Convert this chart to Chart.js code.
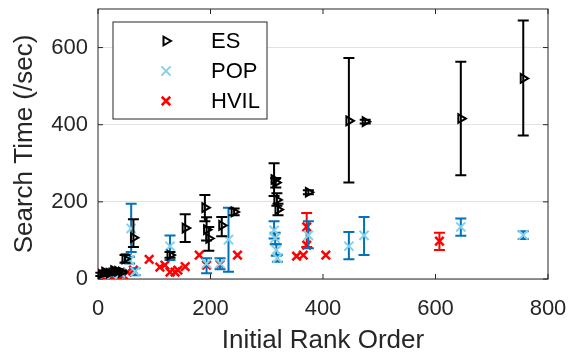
<!DOCTYPE html>
<html lang="en">
<head>
  <meta charset="UTF-8">
  <title>Search Time vs Initial Rank Order</title>
  <script src="https://cdn.jsdelivr.net/npm/chart.js"></script>
  <style>
    html, body { margin: 0; padding: 0; background: #fff; }
    #wrap { width: 571px; height: 356px; }
  </style>
</head>
<body>
  <div id="wrap"><canvas id="searchChart" width="571" height="356"></canvas></div>

  <script>
    // ES
    const esX  = [5, 12, 20, 28, 35, 42, 48, 63, 128, 155, 190, 193, 197, 220, 242, 313, 316, 318, 320, 374, 446, 475, 645, 756];
    const esY  = [12, 18, 15, 22, 20, 18, 52, 107, 62, 132, 185, 128, 105, 139, 174, 258, 250, 205, 180, 225, 410, 408, 416, 520];
    const esLo = [8, 14, 10, 17, 15, 14, 42, 83, 55, 96, 150, 100, 73, 111, 165, 215, 237, 190, 165, 220, 250, 403, 269, 372];
    const esHi = [16, 22, 20, 27, 25, 22, 62, 155, 70, 168, 218, 160, 135, 161, 183, 300, 262, 222, 195, 230, 573, 413, 563, 670];

    // POP
    const popX  = [10, 25, 40, 50, 56, 59, 66, 128, 193, 217, 232, 313, 315, 317, 319, 374, 446, 473, 645, 756];
    const popY  = [10, 12, 15, 55, 49, 131, 19, 85, 40, 40, 102, 126, 106, 75, 54, 113, 85, 113, 135, 114];
    const popLo = [5, 8, 10, 45, 40, 70, 10, 49, 15, 25, 19, 105, 90, 60, 45, 80, 51, 62, 112, 104];
    const popHi = [15, 16, 20, 65, 58, 195, 28, 113, 54, 54, 185, 150, 120, 90, 63, 150, 122, 161, 157, 124];

    // HVIL
    const hvilX  = [2, 6, 10, 14, 18, 22, 26, 30, 35, 40, 45, 52, 63, 91, 110, 119, 128, 137, 142, 155, 180, 193, 217, 248, 353, 365, 371, 371, 405, 607];
    const hvilY  = [8, 15, 5, 12, 8, 15, 6, 12, 8, 14, 10, 18, 23, 51, 31, 36, 18, 18, 23, 32, 62, 36, 38, 62, 59, 62, 135, 88, 62, 98];
    const hvilLo = [8, 15, 5, 12, 8, 15, 6, 12, 8, 14, 10, 18, 23, 51, 31, 36, 18, 18, 23, 32, 62, 36, 38, 62, 59, 62, 83, 88, 62, 75];
    const hvilHi = [8, 15, 5, 12, 8, 15, 6, 12, 8, 14, 10, 18, 23, 51, 31, 36, 18, 18, 23, 32, 62, 36, 38, 62, 59, 62, 171, 88, 62, 120];

    // axis ticks
    const xTicks = [0, 200, 400, 600, 800];
    const yTicks = [0, 200, 400, 600];

    const pts = (xs, ys) => xs.map((x, i) => ({ x: x, y: ys[i] }));
    const AX = '#262626';
    Chart.defaults.font.family = "'Liberation Sans', Arial, Helvetica, sans-serif";

    // error bars under each series' markers
    const errorBars = {
      id: 'errorBars',
      beforeDatasetDraw(chart, args) {
        const ds = chart.data.datasets[args.index];
        if (!ds.errLo) return;
        const xs = chart.scales.x, ys = chart.scales.y, ctx = chart.ctx;
        ctx.save();
        ctx.strokeStyle = ds.errColor;
        ctx.lineWidth = 2;
        ds.data.forEach((p, i) => {
          const lo = ds.errLo[i], hi = ds.errHi[i];
          if (hi - lo <= 0) return;
          const px = xs.getPixelForValue(p.x);
          const y0 = ys.getPixelForValue(lo), y1 = ys.getPixelForValue(hi);
          ctx.beginPath();
          ctx.moveTo(px, y0); ctx.lineTo(px, y1);
          ctx.moveTo(px - 5.5, y0); ctx.lineTo(px + 5.5, y0);
          ctx.moveTo(px - 5.5, y1); ctx.lineTo(px + 5.5, y1);
          ctx.stroke();
        });
        ctx.restore();
      }
    };

    // box round the axes with inward ticks
    const axesBox = {
      id: 'axesBox',
      beforeDatasetsDraw(chart) {
        const { ctx, chartArea: a, scales: { x, y } } = chart;
        ctx.save();
        ctx.strokeStyle = AX;
        ctx.lineWidth = 1;
        ctx.strokeRect(a.left, a.top, a.right - a.left, a.bottom - a.top);
        ctx.beginPath();
        xTicks.forEach(v => {
          const px = x.getPixelForValue(v);
          ctx.moveTo(px, a.bottom); ctx.lineTo(px, a.bottom - 5);
          ctx.moveTo(px, a.top); ctx.lineTo(px, a.top + 5);
        });
        yTicks.forEach(v => {
          const py = y.getPixelForValue(v);
          ctx.moveTo(a.left, py); ctx.lineTo(a.left + 5, py);
          ctx.moveTo(a.right, py); ctx.lineTo(a.right - 5, py);
        });
        ctx.stroke();
        ctx.restore();
      }
    };

    // legend box inside the axes, top left
    const boxLegend = {
      id: 'boxLegend',
      afterDatasetsDraw(chart) {
        const { ctx, chartArea: a } = chart;
        const lx = a.left + 15, ly = a.top + 13, w = 154, h = 97;
        ctx.save();
        ctx.fillStyle = '#fff';
        ctx.fillRect(lx, ly, w, h);
        ctx.strokeStyle = AX;
        ctx.lineWidth = 1;
        ctx.strokeRect(lx, ly, w, h);
        ctx.font = "22px 'Liberation Sans', Arial, sans-serif";
        ctx.textBaseline = 'middle';
        chart.data.datasets.forEach((ds, i) => {
          const cy = ly + 19 + i * 30;
          ctx.strokeStyle = ds.borderColor;
          ctx.fillStyle = ds.backgroundColor;
          ctx.lineWidth = ds.borderWidth;
          Chart.helpers.drawPoint(ctx, {
            pointStyle: ds.pointStyle, rotation: ds.rotation || 0,
            radius: ds.pointRadius, borderWidth: ds.borderWidth
          }, lx + 53, cy);
          ctx.fillStyle = '#000';
          ctx.fillText(ds.label, lx + 98, cy + 1);
        });
        ctx.restore();
      }
    };

    new Chart(document.getElementById('searchChart'), {
      type: 'scatter',
      data: {
        datasets: [
          {
            label: 'ES', data: pts(esX, esY), errLo: esLo, errHi: esHi, errColor: '#000',
            pointStyle: 'triangle', rotation: 90, pointRotation: 90, pointRadius: 5,
            borderColor: '#000', backgroundColor: 'rgba(0,0,0,0)', borderWidth: 2
          },
          {
            label: 'POP', data: pts(popX, popY), errLo: popLo, errHi: popHi, errColor: '#0072BD',
            pointStyle: 'crossRot', pointRadius: 6.5,
            borderColor: '#86D0E8', backgroundColor: '#86D0E8', borderWidth: 2
          },
          {
            label: 'HVIL', data: pts(hvilX, hvilY), errLo: hvilLo, errHi: hvilHi, errColor: '#ff0000',
            pointStyle: 'crossRot', pointRadius: 6,
            borderColor: '#ff0000', backgroundColor: '#ff0000', borderWidth: 2.5
          }
        ]
      },
      options: {
        responsive: false,
        animation: false,
        layout: { padding: { top: 9, right: 23, left: 0, bottom: 0 } },
        plugins: { legend: { display: false }, tooltip: { enabled: false } },
        scales: {
          x: {
            type: 'linear', min: 0, max: 800,
            afterFit: s => { s.height = 77; s.paddingLeft = 0; s.paddingRight = 0; },
            ticks: { stepSize: 200, padding: 9, color: AX, font: { size: 22 } },
            grid: { display: false },
            border: { display: false },
            title: { display: true, text: 'Initial Rank Order', color: AX, font: { size: 26 }, padding: { top: 0, bottom: 0 } }
          },
          y: {
            type: 'linear', min: 0, max: 700,
            afterFit: s => { s.width = 98; s.paddingTop = 0; s.paddingBottom = 0; },
            ticks: { stepSize: 200, includeBounds: false, padding: 10, color: AX, font: { size: 22 } },
            grid: { color: '#e2e2e2', drawTicks: false },
            border: { display: false },
            title: { display: true, text: 'Search Time (/sec)', color: AX, font: { size: 26 }, padding: { top: 9, bottom: 0 } }
          }
        }
      },
      plugins: [errorBars, axesBox, boxLegend]
    });
  </script>
</body>
</html>
